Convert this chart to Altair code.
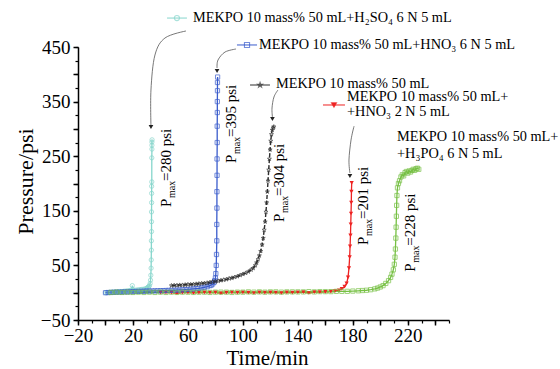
import altair as alt
import pandas as pd

# ---------------- data ----------------
series_names = ["H2SO4 6N", "HNO3 6N", "No acid", "HNO3 2N", "H3PO4 6N"]
series_colors = ["#86d6cc", "#3a5ccc", "#2e2e2e", "#ee2222", "#76c043"]
series_shapes = [
    "circle", "square",
    "M0,-1L0.2245,-0.309L0.951,-0.309L0.363,0.118L0.588,0.809L0,0.382L-0.588,0.809L-0.363,0.118L-0.951,-0.309L-0.2245,-0.309Z",
    "triangle-down", "square",
]

cyan_pts = [(0, 0), (1, 0.2), (2, 0.4), (3, 0.5), (4, 0.7), (5, 1), (6, 1), (7, 1.2), (8, 1.5), (9, 1.7),
            (10, 2), (11, 2), (12, 2.2), (13, 2.5), (14, 2.7), (15, 3), (16, 3.2), (17, 3.5), (18, 4), (19, 5),
            (19.5, 13), (20, 6), (21, 4), (22, 4.5), (23, 5), (24, 5), (25, 5.5), (26, 6), (27, 6), (28, 6.5),
            (29, 7), (30, 8), (30.5, 9), (31, 10), (31.5, 11), (32, 13), (32.5, 17), (32.8, 23), (33, 32),
            (33.2, 45), (33.3, 60), (33.4, 78), (33.4, 95), (33.5, 112), (33.5, 130), (33.5, 148), (33.6, 165),
            (33.6, 182), (33.6, 195), (33.7, 203), (33.7, 247), (33.8, 263), (33.8, 270), (33.8, 276), (33.9, 280)]

blue_pts = [(0, 0), (2, 0.3), (4, 0.5), (6, 0.8), (8, 1), (10, 1), (12, 1.2), (14, 1.4), (16, 1.5), (18, 1.7),
            (20, 2), (22, 2.2), (24, 2.4), (26, 2.5), (28, 2.7), (30, 3), (32, 3), (34, 3.2), (36, 3.4), (38, 3.5),
            (40, 3.7), (42, 3.8), (44, 4), (46, 4.2), (48, 4.4), (50, 4.5), (52, 4.8), (54, 5), (56, 5.3), (58, 5.6),
            (60, 6), (62, 6.5), (64, 7), (66, 7.5), (68, 8), (70, 9), (72, 10), (74, 11), (76, 13), (77, 14),
            (78, 16), (79, 19), (79.5, 22), (80, 27), (80.3, 35), (80.6, 50), (80.8, 70), (81, 95), (81, 125),
            (81.1, 155), (81.1, 185), (81.2, 215), (81.2, 245), (81.3, 275), (81.3, 305), (81.4, 330),
            (81.4, 350), (81.5, 370), (81.5, 385), (81.6, 395)]

gray_pts = [(48, 13), (50, 13.5), (52, 13.5), (54, 14), (56, 14), (58, 14.5), (60, 15), (62, 15), (64, 15.5),
            (66, 16), (68, 16.5), (70, 17), (72, 17.5), (74, 18), (76, 19), (78, 20), (80, 20.5), (82, 21.5),
            (84, 22.5), (86, 23.5), (88, 24.5), (90, 26), (92, 27), (94, 28.5), (96, 30), (98, 32), (100, 34),
            (102, 36), (104, 38.5), (106, 42), (107.5, 45), (109, 50), (110, 55), (111, 61), (112, 68), (113, 76),
            (114, 88), (114.8, 100), (115.5, 115), (116.2, 130), (116.8, 148), (117.3, 165), (117.8, 185),
            (118.3, 205), (118.8, 225), (119.3, 245), (119.8, 262), (120.3, 278), (120.8, 290), (121.4, 298),
            (122, 302), (122.5, 304)]

red_pts = [(40, 0), (44, 0.5), (48, 0), (52, -1), (56, 0), (60, 0.5), (64, -0.5), (68, 0), (72, 0.5), (76, 0),
           (80, 0.5), (84, -1), (88, 0), (92, 0.5), (96, 0), (100, 0.5), (104, 0), (108, -0.5), (112, 0.5),
           (116, 0), (120, 0.5), (124, 0), (128, -0.5), (132, 0.5), (136, 0), (140, 0.5), (144, 1), (148, -0.5),
           (152, 1), (156, 1), (160, 1.5), (164, 2), (167, 3), (170, 4.5), (172, 7), (174, 11), (175.5, 17),
           (176.5, 28), (177.2, 45), (177.7, 65), (178, 85), (178.3, 105), (178.5, 125), (178.7, 145),
           (178.9, 165), (179, 185), (179.2, 201)]

green_pts = [(4, 0.5), (8, 1), (12, 0.5), (16, 1), (20, 0.5), (24, 1), (28, 0.5), (32, 1), (36, 0.5), (40, 1),
             (44, 0.5), (48, 1), (52, 0.5), (56, 1), (60, 1), (64, 0.5), (68, 1), (72, 1), (76, 0.5), (80, 1),
             (84, 1), (88, 1), (92, 0.5), (96, 1), (100, 1), (104, 1.5), (108, 1), (112, 1.5), (116, 1),
             (120, 1.5), (124, 1.5), (128, 1), (132, 1.5), (136, 1.5), (140, 1.5), (144, 1.5), (148, 2),
             (152, 1.5), (156, 2), (160, 2), (164, 2), (168, 2.5), (172, 2.5), (176, 2.5), (180, 3), (184, 3.5),
             (187, 4), (190, 4.5), (193, 5.5), (196, 7), (198, 8.5), (200, 10.5), (202, 13), (204, 17),
             (206, 22), (207.5, 28), (208.5, 34), (209.5, 42), (210.2, 52), (210.7, 65), (211, 80),
             (211.3, 100), (211.5, 120), (211.7, 140), (211.9, 160), (212.1, 178), (212.5, 192), (213.2, 200),
             (214, 205), (215, 212), (216, 216), (217, 214), (218, 220), (219, 222), (220, 219), (221, 223),
             (222, 221), (223, 224), (224, 226), (225, 224), (226, 227), (227, 228), (228, 226)]

all_pts = [cyan_pts, blue_pts, gray_pts, red_pts, green_pts]

# legend-like labels at the top (data coordinates)
legend_series = ["H2SO4 6N", "HNO3 6N", "No acid", "HNO3 2N"]
legend_x1 = [44.8, 95.7, 105.2, 158.3]
legend_x2 = [59.3, 110.3, 119.7, 174.3]
legend_xm = [52.0, 103.0, 112.5, 166.3]
legend_y = [503.0, 453.7, 380.4, 343.8]

label_texts = ["MEKPO 10 mass% 50 mL+H₂SO₄ 6 N 5 mL",
               "MEKPO 10 mass% 50 mL+HNO₃ 6 N 5 mL",
               "MEKPO 10 mass% 50 mL",
               "MEKPO 10 mass% 50 mL+",
               "+HNO₃ 2 N 5 mL",
               "MEKPO 10 mass% 50 mL+",
               "+H₃PO₄ 6 N 5 mL"]
label_x = [63.7, 111.7, 124.1, 175.8, 175.8, 212.2, 212.2]
label_y = [503.0, 453.7, 383.1, 357.6, 331.0, 285.2, 254.0]

# Pmax labels (rotated)
pmax_text = ["=280 psi", "=395 psi", "=304 psi", "=201 psi", "=228 psi"]
pmax_x = [47.7, 95.0, 129.9, 191.0, 225.3]
pmax_y = [157.0, 237.5, 129.5, 87.4, 38.5]

# curved arrows
arrow_id = [1, 1, 1, 1, 1, 2, 2, 2, 2, 3, 3, 3, 3, 4, 4, 4, 4]
arrow_x = [58.6, 43.3, 36.0, 33.1, 33.1, 95.0, 87.0, 81.9, 81.2, 125.5, 122.6, 121.2, 121.5, 180.9, 178.7, 177.2, 177.9]
arrow_y = [479.3, 466.5, 435.3, 371.2, 305.3, 446.3, 440.8, 426.2, 411.5, 371.2, 358.4, 338.3, 321.8, 305.0, 279.7, 243.0, 219.2]
head_x = [33.1, 81.2, 121.5, 177.9]
head_y = [303.5, 406.0, 318.1, 213.7]

# ---------------- tables ----------------
rows = []
for name, pts in zip(series_names, all_pts):
    for i, (t, p) in enumerate(pts):
        rows.append({"series": name, "t": t, "p": p, "i": i})
df = pd.DataFrame(rows)

leg_df = pd.DataFrame({"series": legend_series, "x1": legend_x1, "x2": legend_x2, "xm": legend_xm, "y": legend_y})
lab_df = pd.DataFrame({"text": label_texts, "x": label_x, "y": label_y})
pmax_df = pd.DataFrame({"text": pmax_text, "x": pmax_x, "y": pmax_y})
arr_df = pd.DataFrame({"id": arrow_id, "x": arrow_x, "y": arrow_y, "seq": list(range(len(arrow_x)))})
head_df = pd.DataFrame({"x": head_x, "y": head_y})

FONT = "Liberation Serif"
xs = alt.Scale(domain=[-20, 250], nice=False, zero=False)
ys = alt.Scale(domain=[-50, 450], nice=False, zero=False)
cs = alt.Scale(domain=series_names, range=series_colors)
ss = alt.Scale(domain=series_names, range=series_shapes)

x_major = alt.Axis(orient="bottom", values=list(range(-20, 241, 20)), tickSize=5, tickWidth=1.5,
                   domainWidth=1.5, labelFontSize=19, labelFont=FONT, labelPadding=1,
                   labelExpr="(datum.value + 20) % 40 == 0 ? datum.label : ''",
                   labelFlush=False, labelOverlap=False, title="Time/min", titleFont=FONT,
                   titleFontSize=21, titleFontWeight="normal", titleX=189, titleY=44,
                   titleBaseline="alphabetic", titleAlign="center", grid=False)
x_minor = alt.Axis(orient="bottom", values=list(range(-20, 251, 10)), tickSize=3, tickWidth=1.2,
                   labels=False, domain=False, title="", grid=False)
y_major = alt.Axis(orient="left", values=list(range(-50, 451, 50)), tickSize=5, tickWidth=1.5,
                   domainWidth=1.5, labelFontSize=19, labelFont=FONT, labelPadding=3,
                   labelExpr="(datum.value + 50) % 100 == 0 ? datum.label : ''",
                   labelOverlap=False, title="Pressure/psi", titleFont=FONT, titleFontSize=22,
                   titleFontWeight="normal", titleX=-53, titleY=134, titleAngle=270,
                   titleBaseline="middle", titleAlign="center", grid=False)
y_minor = alt.Axis(orient="left", values=list(range(-50, 451, 25)), tickSize=3, tickWidth=1.2,
                   labels=False, domain=False, title="", grid=False)

base = alt.Chart(df)

lines_main = base.transform_filter(alt.datum.series != "No acid").mark_line(strokeWidth=1.3).encode(
    x=alt.X("t:Q", scale=xs, axis=x_major),
    y=alt.Y("p:Q", scale=ys, axis=y_major),
    color=alt.Color("series:N", scale=cs, legend=None),
    detail="series:N",
    order="i:Q",
)
minor_axes = base.mark_point(opacity=0).encode(
    x=alt.X("t:Q", scale=xs, axis=x_minor),
    y=alt.Y("p:Q", scale=ys, axis=y_minor),
)
line_gray = base.transform_filter(alt.datum.series == "No acid").mark_line(
    strokeWidth=1.4, strokeDash=[4, 2]).encode(
    x=alt.X("t:Q", scale=xs, axis=None),
    y=alt.Y("p:Q", scale=ys, axis=None),
    color=alt.Color("series:N", scale=cs, legend=None),
    order="i:Q",
)
pts_hollow = base.transform_filter(alt.datum.series != "HNO3 2N").mark_point(
    filled=False, size=18, strokeWidth=1).encode(
    x=alt.X("t:Q", scale=xs, axis=None),
    y=alt.Y("p:Q", scale=ys, axis=None),
    color=alt.Color("series:N", scale=cs, legend=None),
    shape=alt.Shape("series:N", scale=ss, legend=None),
)
pts_red = base.transform_filter(alt.datum.series == "HNO3 2N").mark_point(
    filled=True, size=18, opacity=1).encode(
    x=alt.X("t:Q", scale=xs, axis=None),
    y=alt.Y("p:Q", scale=ys, axis=None),
    color=alt.Color("series:N", scale=cs, legend=None),
    shape=alt.Shape("series:N", scale=ss, legend=None),
)

leg_rule = alt.Chart(leg_df).mark_rule(strokeWidth=1).encode(
    x=alt.X("x1:Q", scale=xs, axis=None), x2="x2:Q",
    y=alt.Y("y:Q", scale=ys, axis=None),
    color=alt.Color("series:N", scale=cs, legend=None),
)
leg_pt = alt.Chart(leg_df).mark_point(size=26, strokeWidth=1.1, filled=False).encode(
    x=alt.X("xm:Q", scale=xs, axis=None),
    y=alt.Y("y:Q", scale=ys, axis=None),
    color=alt.Color("series:N", scale=cs, legend=None),
    shape=alt.Shape("series:N", scale=ss, legend=None),
)
leg_pt_red = alt.Chart(leg_df).transform_filter(alt.datum.series == "HNO3 2N").mark_point(
    size=26, filled=True, opacity=1).encode(
    x=alt.X("xm:Q", scale=xs, axis=None),
    y=alt.Y("y:Q", scale=ys, axis=None),
    color=alt.Color("series:N", scale=cs, legend=None),
    shape=alt.Shape("series:N", scale=ss, legend=None),
)

labels = alt.Chart(lab_df).mark_text(align="left", baseline="middle", font=FONT, fontSize=14.3,
                                     color="black").encode(
    x=alt.X("x:Q", scale=xs, axis=None),
    y=alt.Y("y:Q", scale=ys, axis=None),
    text="text:N",
)

pm_p = alt.Chart(pmax_df).mark_text(align="left", baseline="alphabetic", angle=270, font=FONT,
                                    fontSize=15, color="black").encode(
    x=alt.X("x:Q", scale=xs, axis=None),
    y=alt.Y("y:Q", scale=ys, axis=None),
    text=alt.value("P"),
)
pm_max = alt.Chart(pmax_df).mark_text(align="left", baseline="alphabetic", angle=270, font=FONT,
                                      fontSize=10, dx=9, dy=4, color="black").encode(
    x=alt.X("x:Q", scale=xs, axis=None),
    y=alt.Y("y:Q", scale=ys, axis=None),
    text=alt.value("max"),
)
pm_rest = alt.Chart(pmax_df).mark_text(align="left", baseline="alphabetic", angle=270, font=FONT,
                                       fontSize=15, dx=26, color="black").encode(
    x=alt.X("x:Q", scale=xs, axis=None),
    y=alt.Y("y:Q", scale=ys, axis=None),
    text="text:N",
)

arrows = alt.Chart(arr_df).mark_line(interpolate="cardinal", strokeWidth=0.8, color="#555555").encode(
    x=alt.X("x:Q", scale=xs, axis=None),
    y=alt.Y("y:Q", scale=ys, axis=None),
    detail="id:N",
    order="seq:Q",
)
heads = alt.Chart(head_df).mark_point(shape="triangle-down", filled=True, size=22, color="#222222",
                                      opacity=1).encode(
    x=alt.X("x:Q", scale=xs, axis=None),
    y=alt.Y("y:Q", scale=ys, axis=None),
)

chart = alt.layer(
    lines_main, minor_axes, line_gray, pts_red, pts_hollow,
    leg_rule, leg_pt, leg_pt_red, labels, pm_p, pm_max, pm_rest, arrows, heads,
).resolve_axis(x="independent", y="independent").properties(
    width=371, height=273,
    padding={"left": 78, "top": 47, "right": 111, "bottom": 49},
    autosize=alt.AutoSizeParams(type="none"),
    background="white",
).configure_view(stroke=None).configure_axis(
    domainColor="black", tickColor="black", labelColor="black", titleColor="black",
    titleFontWeight="normal",
)

chart.save("out.html", embed_options={"renderer": "svg", "actions": False})
